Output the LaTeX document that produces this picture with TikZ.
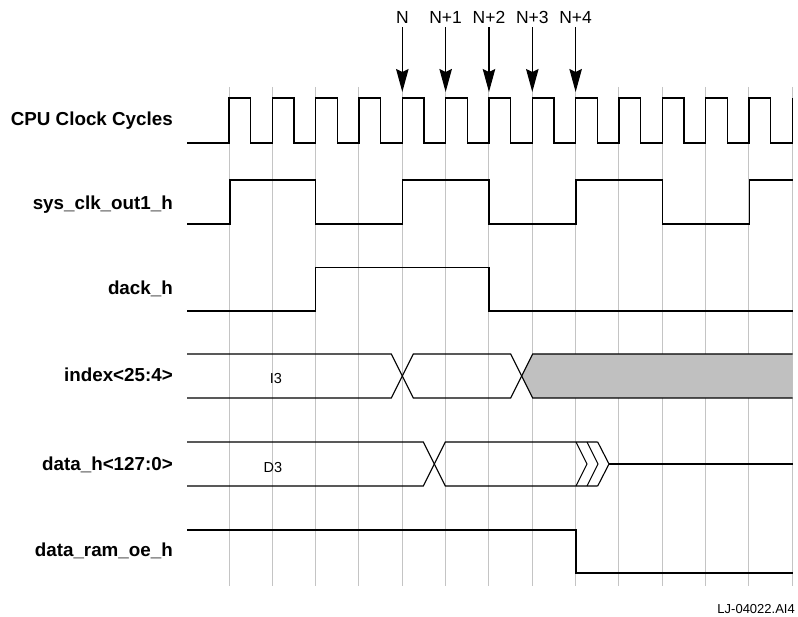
\documentclass[tikz,border=0pt]{standalone}
\usepackage{fontspec}
\setmainfont{Liberation Sans}
\usetikzlibrary{arrows.meta, positioning, calc}
\definecolor{gridline}{RGB}{196,196,196}
\definecolor{busfill}{RGB}{192,192,192}

\begin{document}
\begin{tikzpicture}[x=1pt, y=-1pt,
  sig/.style={black, line width=1.1pt, line join=miter},
  gridln/.style={gridline, line width=1pt},
  lbl/.style={anchor=base east, inner sep=0pt, font=\fontsize{18.8}{22}\selectfont\bfseries},
  cyc/.style={anchor=base, inner sep=3pt, font=\fontsize{17.5}{20}\selectfont},
  cycarrow/.style={line width=1.2pt, -{Stealth[length=23pt, width=12.5pt, inset=3pt]}},
  val/.style={inner sep=0pt, font=\fontsize{14.5}{16}\selectfont},
  foot/.style={anchor=base east, inner sep=0pt, font=\fontsize{13}{15}\selectfont}]
  \useasboundingbox (0,0) rectangle (798,617);

  % grid of clock edges
  \foreach \k in {0,...,13}
    \draw[gridln] ({229+43.33*\k},87) -- ({229+43.33*\k},586);

  % signal names
  \node[lbl] (cpu)   at (173,126)   {CPU Clock Cycles};
  \node[lbl] (sys)   at (173,209.3) {sys\_clk\_out1\_h};
  \node[lbl] (dack)  at (173,294.3) {dack\_h};
  \node[lbl] (index) at (173,381.7) {index<25:4>};
  \node[lbl] (data)  at (173,470)   {data\_h<127:0>};
  \node[lbl] (oe)    at (173,556.7) {data\_ram\_oe\_h};

  % cycle markers
  \foreach \k/\t [count=\i] in {4/N, 5/N+1, 6/N+2, 7/N+3, 8/N+4} {
    \node[cyc] (c\i) at ({229+43.33*\k},24) {\t};
    \coordinate (e\i) at ({229+43.33*\k},92);
    \draw[cycarrow] (c\i) -- (e\i);
  }

  % CPU clock
  \draw[sig] (187,143) \foreach \k in {0,...,12} {
      -- ({229+43.33*\k},143) -- ++(0,-45) -- ++(21.67,0) -- ++(0,45) }
    -- (792.5,143) -- (792.5,98);

  % sys_clk_out1_h
  \draw[sig] (187,224) -- (230,224) -- (230,180) -- (315.7,180) -- (315.7,224)
    -- (402.3,224) -- (402.3,180) -- (489,180) -- (489,224) -- (576,224)
    -- (576,180) -- (662.6,180) -- (662.6,224) -- (749.2,224) -- (749.2,180)
    -- (792.5,180);

  % dack_h
  \draw[sig] (187,311) -- (315.7,311) -- (315.7,267.5) -- (489,267.5)
    -- (489,311) -- (792.5,311);

  % index bus
  \fill[busfill] (521.7,376) -- (532.7,354) -- (792.5,354) -- (792.5,398)
    -- (532.7,398) -- cycle;
  \draw[sig] (187,354) -- (391.3,354) -- (413.3,398) -- (510.7,398)
    -- (532.7,354) -- (792.5,354);
  \draw[sig] (187,398) -- (391.3,398) -- (413.3,354) -- (510.7,354)
    -- (532.7,398) -- (792.5,398);
  \node[val] (i3) at (276,379) {I3};

  % data bus
  \draw[sig] (187,442) -- (423.3,442) -- (445.3,486) -- (597.7,486);
  \draw[sig] (187,486) -- (423.3,486) -- (445.3,442) -- (597.7,442);
  \draw[sig] (576,442) -- (587,464) -- (576,486);
  \draw[sig] (587,442) -- (598,464) -- (587,486);
  \draw[sig] (597.7,442) -- (609,464) -- (597.7,486);
  \draw[sig] (609,464) -- (792.5,464);
  \node[val] (d3) at (273,468) {D3};

  % data_ram_oe_h
  \draw[sig] (187,530) -- (576,530) -- (576,573) -- (792.5,573);

  \node[foot] (fig) at (795,613) {LJ-04022.AI4};
\end{tikzpicture}
\end{document}
